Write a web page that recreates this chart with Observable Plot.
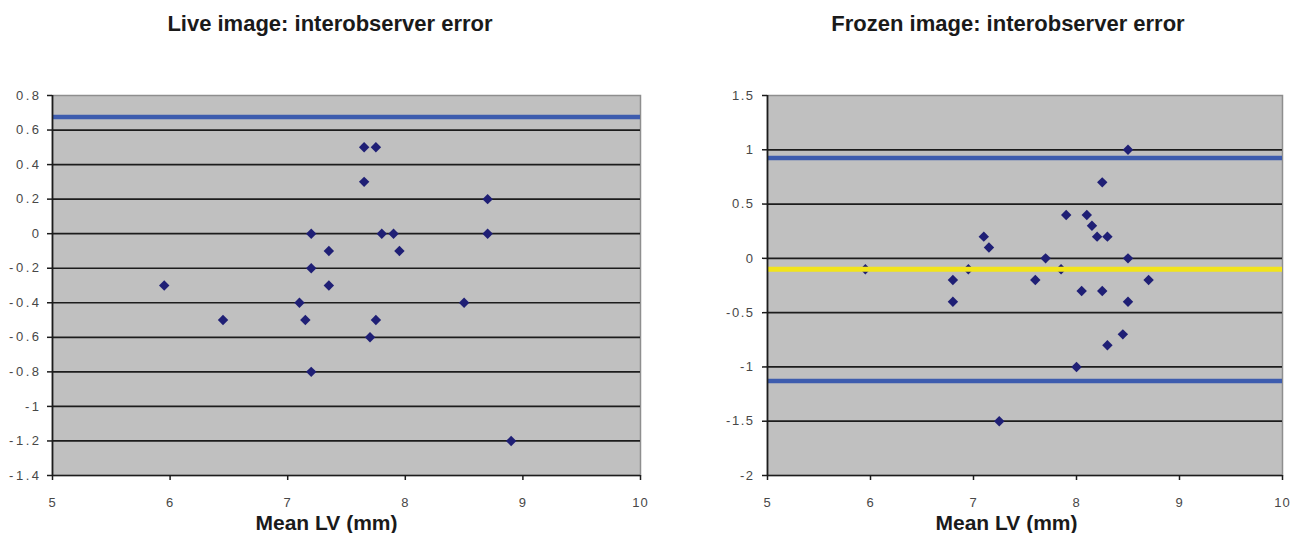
<!DOCTYPE html>
<html>
<head>
<meta charset="utf-8">
<script src="https://cdn.jsdelivr.net/npm/d3@7"></script>
<script src="https://cdn.jsdelivr.net/npm/@observablehq/plot@0.6"></script>
<style>
  html, body { margin: 0; padding: 0; background: #fff; }
  #root { position: relative; width: 1290px; height: 533px; overflow: hidden; font-family: "Liberation Sans", Arial, sans-serif; }
  .title { position: absolute; top: 13px; font-weight: bold; font-size: 22px; line-height: 22px; color: #1a1a1a; text-align: center; white-space: nowrap; }
  .chart { position: absolute; top: 60px; }
</style>
</head>
<body>
<div id="root">
  <div class="title" id="t1" style="left:80px;width:500px;">Live image: interobserver error</div>
  <div class="title" id="t2" style="left:758px;width:500px;">Frozen image: interobserver error</div>
  <div class="chart" id="c1" style="left:0px;"></div>
  <div class="chart" id="c2" style="left:650px;"></div>
</div>
<script>
// ---- Data ----
const xTicks = [5, 6, 7, 8, 9, 10];
const xLabel = "Mean LV (mm)";

// Live image
const liveMean = [5.95, 6.45, 7.1, 7.15, 7.2, 7.2, 7.2, 7.35, 7.35, 7.65, 7.75, 7.65, 7.7, 7.75, 7.8, 7.9, 7.95, 8.5, 8.7, 8.7, 8.9];
const liveDiff = [-0.3, -0.5, -0.4, -0.5, 0, -0.2, -0.8, -0.1, -0.3, 0.5, 0.5, 0.3, -0.6, -0.5, 0, 0, -0.1, -0.4, 0.2, 0, -1.2];
const liveYTicks = [0.8, 0.6, 0.4, 0.2, 0, -0.2, -0.4, -0.6, -0.8, -1, -1.2, -1.4];
const liveLimits = [0.675];
const liveMeanLine = [];

// Frozen image
const frozenMean = [5.95, 6.8, 6.8, 6.95, 7.1, 7.15, 7.25, 7.6, 7.7, 7.85, 7.9, 8.0, 8.05, 8.1, 8.15, 8.2, 8.25, 8.25, 8.3, 8.3, 8.45, 8.5, 8.5, 8.5, 8.7];
const frozenDiff = [-0.1, -0.2, -0.4, -0.1, 0.2, 0.1, -1.5, -0.2, 0, -0.1, 0.4, -1.0, -0.3, 0.4, 0.3, 0.2, 0.7, -0.3, 0.2, -0.8, -0.7, 1.0, 0, -0.4, -0.2];
const frozenYTicks = [1.5, 1, 0.5, 0, -0.5, -1, -1.5, -2];
const frozenLimits = [0.925, -1.13];
const frozenMeanLine = [-0.1];

// ---- Styles ----
const BG = "#c0c0c0";
const GRID = "#1c1c1c";
const DOT = "#1f1f75";
const BLUE = "#3d5cae";
const YELLOW = "#f2e41a";
const TICKTXT = "#474747";

function chart({mean, diff, yTicks, limits, meanLine, width, marginLeft, marginRight, tickPadY, labelDx, ls}) {
  const pts = mean.map((m, i) => ({m, d: diff[i]}));
  const yMax = d3.max(yTicks), yMin = d3.min(yTicks);
  const fmt = d => String(+d.toFixed(2));
  const svg = Plot.plot({
    width, height: 473,
    marginTop: 35, marginBottom: 58, marginLeft, marginRight,
    style: {fontFamily: "'Liberation Sans', Arial, sans-serif", background: "transparent", overflow: "visible"},
    x: {domain: [5, 10]},
    y: {domain: [yMin, yMax]},
    marks: [
      Plot.frame({fill: BG, stroke: "#8e8e8e", strokeWidth: 1.5}),
      Plot.ruleY(yTicks.filter(t => t !== yMax && t !== yMin), {stroke: GRID, strokeWidth: 1.7}),
      Plot.dot(pts, {x: "m", y: "d", symbol: "diamond2", r: 4.7, fill: DOT, stroke: "none"}),
      Plot.ruleY(meanLine, {stroke: YELLOW, strokeWidth: 5}),
      Plot.ruleY(limits, {stroke: BLUE, strokeWidth: 4.5}),
      Plot.ruleX([5], {stroke: GRID, strokeWidth: 1.7}),
      Plot.ruleY([yMin], {stroke: GRID, strokeWidth: 1.7}),
      Plot.axisY({ticks: yTicks, tickFormat: fmt, tickSize: 5, tickPadding: tickPadY, fontSize: 13, fill: TICKTXT, stroke: GRID, strokeWidth: 1.5, label: null}),
      Plot.axisX({ticks: xTicks, tickFormat: fmt, tickSize: 5, tickPadding: 17, fontSize: 13, fill: TICKTXT, stroke: GRID, strokeWidth: 1.5, label: null}),
      Plot.text([xLabel], {frameAnchor: "bottom", dy: 48, dx: labelDx, fontSize: 21, fontWeight: "bold", fill: "#1a1a1a", lineAnchor: "middle"})
    ]
  });
  d3.select(svg).selectAll("g[aria-label='y-axis tick label'] text").style("letter-spacing", ls + "px");
  d3.select(svg).selectAll("g[aria-label='x-axis tick label'] text").style("letter-spacing", "1px");
  return svg;
}

const c1 = chart({mean: liveMean, diff: liveDiff, yTicks: liveYTicks, limits: liveLimits, meanLine: liveMeanLine,
  width: 650, marginLeft: 52, marginRight: 10, tickPadY: 6, labelDx: -20, ls: 2.5});
const c2 = chart({mean: frozenMean, diff: frozenDiff, yTicks: frozenYTicks, limits: frozenLimits, meanLine: frozenMeanLine,
  width: 640, marginLeft: 117, marginRight: 8, tickPadY: 8, labelDx: -18.5, ls: 1.5});
document.getElementById("c1").appendChild(c1);
document.getElementById("c2").appendChild(c2);
</script>
</body>
</html>
